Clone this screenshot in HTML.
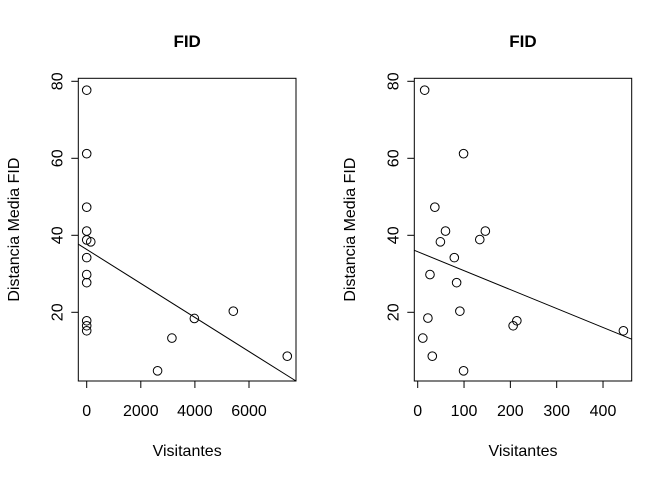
<!DOCTYPE html>
<html><head><meta charset="utf-8"><style>
body{margin:0;background:#fff}
svg text{font-family:"Liberation Sans",Arial,sans-serif;fill:#000}
</style></head><body>
<svg width="672" height="480" id="s"></svg>
<script>
const leftX=[0,0,0,0,0,150,0,0,0,0,0,0,2620,3150,3980,5420,7415];
const leftY=[77.7,61.2,47.3,41.1,38.8,38.3,34.2,29.8,27.7,17.8,16.5,15.2,4.8,13.3,18.4,20.3,8.6];
const leftTicksX=[0,2000,4000,6000];
const leftFit=[36.33,-0.004417];
const rightX=[15,99,37,60,49,146,134,79,26.5,84,22,91,11,31.5,99,206,214,444];
const rightY=[77.7,61.2,47.3,41.1,38.3,41.1,38.9,34.2,29.8,27.7,18.5,20.3,13.3,8.6,4.8,16.5,17.8,15.2];
const rightTicksX=[0,100,200,300,400];
const rightFit=[35.74,-0.0492];
const yTicks=[20,40,60,80];
const NS="http://www.w3.org/2000/svg";
const svg=document.getElementById('s');
function mk(t,a,p){const e=document.createElementNS(NS,t);for(const k in a)e.setAttribute(k,a[k]);(p||svg).appendChild(e);return e;}
function panel(name,box,x0,xs,xs_data,ys_data,ticks,fit,tx){
  const g=mk('g',{});
  
  
  const X=v=>x0+v*xs, Y=v=>312.3-(v-20)*3.85;
  const b=mk('rect',{x:box[0],y:78.3,width:box[1]-box[0],height:381-78.3,fill:'none',stroke:'#000','stroke-width':1},g);
  
  ticks.forEach(t=>{mk('line',{x1:X(t),x2:X(t),y1:381,y2:388,stroke:'#000'},g);
    const l=mk('text',{x:X(t),y:416,'text-anchor':'middle','font-size':16},g);l.textContent=t;
    });
  mk('line',{x1:X(ticks[0]),x2:X(ticks[ticks.length-1]),y1:381,y2:381,stroke:'#000'},g);
  yTicks.forEach(t=>{mk('line',{x1:box[0]-7,x2:box[0],y1:Y(t),y2:Y(t),stroke:'#000'},g);
    const l=mk('text',{x:0,y:0,'text-anchor':'middle','font-size':16,transform:`translate(${box[0]-16},${Y(t)}) rotate(-90)`},g);l.textContent=t;
    });
  xs_data.forEach((v,i)=>{const c=mk('circle',{cx:X(v),cy:Y(ys_data[i]),r:4.3,fill:'none',stroke:'#000','stroke-width':1},g);
    });
  const xa=(box[0]-x0)/xs, xb=(box[1]-x0)/xs;
  const ln=mk('line',{x1:box[0],y1:Y(fit[0]+fit[1]*xa),x2:box[1],y2:Y(fit[0]+fit[1]*xb),stroke:'#000','stroke-width':1},g);
  
  const ti=mk('text',{x:(box[0]+box[1])/2,y:47,'text-anchor':'middle','font-size':17,'font-weight':'bold'},g);ti.textContent='FID';
  
  const xt=mk('text',{x:(box[0]+box[1])/2,y:456,'text-anchor':'middle','font-size':16},g);xt.textContent='Visitantes';
  
  const yt=mk('text',{x:0,y:0,'text-anchor':'middle','font-size':16,transform:`translate(${tx},${(78.3+381)/2}) rotate(-90)`},g);yt.textContent='Distancia Media FID';
  
}
panel('left-panel',[78.3,296],86.7,0.02705,leftX,leftY,leftTicksX,leftFit,19);
panel('right-panel',[414.3,631.7],417.7,0.4633,rightX,rightY,rightTicksX,rightFit,355);
</script>
</body></html>
